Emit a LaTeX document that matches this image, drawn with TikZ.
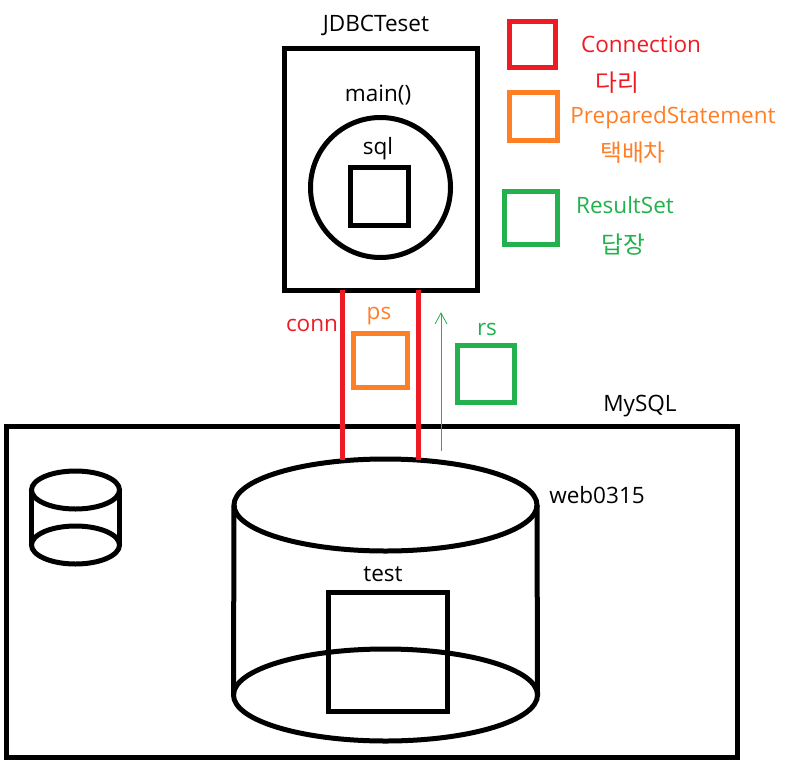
\documentclass[tikz,border=0pt]{standalone}
\usepackage{fontspec}
\setmainfont{Open Sans}
\newfontfamily\krfont{Noto Sans CJK KR}
\usetikzlibrary{shapes.geometric,arrows,positioning,calc}
\definecolor{myred}{HTML}{ED1C24}
\definecolor{myorange}{HTML}{FF7F27}
\definecolor{mygreen}{HTML}{22B14C}
\tikzset{
	box/.style={draw=#1, line width=3.75pt, rectangle, inner sep=0, outer sep=0, fill=none},
	disk/.style={draw, line width=3.75pt, ellipse, inner sep=0, outer sep=0},
	wire/.style={myred, line width=3.75pt},
	txt/.style={font=\fontsize{16.9}{18}\selectfont, inner sep=0, text=#1},
	kr/.style={font=\fontsize{17.8}{19}\selectfont\krfont, inner sep=0, text=#1}
}
\begin{document}
\begin{tikzpicture}[x=.75pt,y=-.75pt]
		\useasboundingbox (0,0) rectangle (792,760);
		
		%mysql
		\node[box=black, minimum width=548.25pt, minimum height=248.25pt] (mysql) at (371.5,591.5) {};
		\node[txt=black] (mysqllabel) at (640,406) {MySQL};
		
		%small cylinder
		\node[disk, minimum width=66pt, minimum height=28.5pt] (smalltop) at (75.5,490) {};
		\node[disk, minimum width=66pt, minimum height=28.5pt] (smallbot) at (75.5,545) {};
		\draw[line width=3.75pt] (smalltop.west) -- (smallbot.west);
		\draw[line width=3.75pt] (smalltop.east) -- (smallbot.east);
		
		%big cylinder
		\node[disk, minimum width=227.25pt, minimum height=69pt] (bigtop) at (385.5,505) {};
		\node[disk, minimum width=228pt, minimum height=69pt] (bigbot) at (385.5,695) {};
		\draw[line width=3.75pt] (bigtop.west) -- (bigbot.west);
		\draw[line width=3.75pt] (bigtop.east) -- (bigbot.east);
		\node[txt=black] (web) at (597,495) {web0315};
		\node[box=black, minimum width=89.25pt, minimum height=89.25pt] (test) at (387.5,651.5) {};
		\node[txt=black] (testlabel) at (383,574) {test};
		
		%client
		\node[box=black, minimum width=144.75pt, minimum height=181.5pt] (jdbc) at (380.5,169) {};
		\node[txt=black] (jdbclabel) at (376,25) {JDBCTeset};
		\node[txt=black] (mainlabel) at (378,95) {main()};
		\node[box=black, circle, minimum size=105pt] (mainc) at (380.5,187.5) {};
		\node[txt=black] (sqllabel) at (378,149) {sql};
		\node[box=black, minimum width=43.5pt, minimum height=43.5pt] (sql) at (379,196.5) {};
		
		%wires
		\coordinate (a1) at (342.5,290);
		\coordinate (a2) at (342.5,460);
		\coordinate (b1) at (418.5,290);
		\coordinate (b2) at (418.5,460);
		\draw[wire] (a1) -- (a2);
		\draw[wire] (b1) -- (b2);
		\coordinate (c1) at (441,451);
		\coordinate (c2) at (441,313);
		\draw[mygreen, line width=.75pt] (c1) -- (c2);
		\draw[mygreen, line width=.6pt] ($(c2)+(-6,11)$) -- (c2) -- ($(c2)+(6,11)$);
		
		%objects on the wires
		\node[txt=myred] (conn) at (312,325) {conn};
		\node[box=myorange, minimum width=41pt, minimum height=41pt] (ps) at (380.5,360.5) {};
		\node[txt=myorange] (pslabel) at (379,316) {ps};
		\node[box=mygreen, minimum width=43pt, minimum height=43pt] (rs) at (486,374) {};
		\node[txt=mygreen] (rslabel) at (487,329) {rs};
		
		%legend
		\node[box=myred, minimum width=35pt, minimum height=35pt] (legred) at (532.5,44.5) {};
		\node[txt=myred] (legconn) at (641,44) {Connection};
		\node[kr=myred] (legdari) at (617,83) {다리};
		\node[box=myorange, minimum width=36pt, minimum height=36pt] (legorange) at (533,116) {};
		\node[txt=myorange] (legps) at (673,118) {PreparedStatement};
		\node[kr=myorange] (legtaek) at (633,153) {택배차};
		\node[box=mygreen, minimum width=40pt, minimum height=39.75pt] (leggreen) at (531,217.5) {};
		\node[txt=mygreen] (legrs) at (625,205) {ResultSet};
		\node[kr=mygreen] (legdap) at (623,245) {답장};
\end{tikzpicture}
\end{document}
